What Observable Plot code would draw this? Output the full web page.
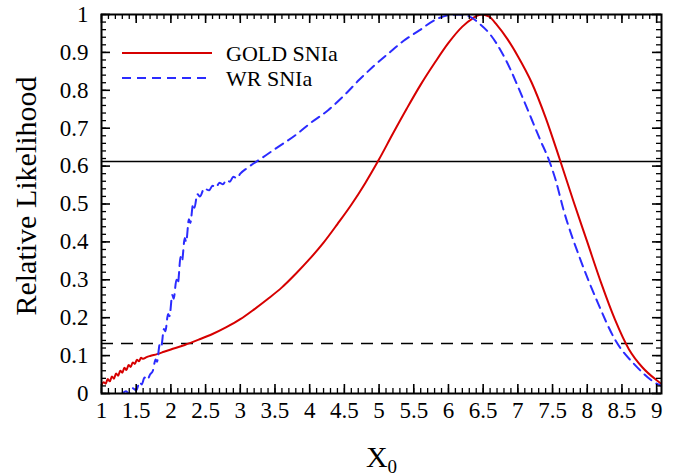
<!DOCTYPE html>
<html><head><meta charset="utf-8">
<script src="https://cdn.jsdelivr.net/npm/d3@7"></script>
<script src="https://cdn.jsdelivr.net/npm/@observablehq/plot@0.6"></script>
<style>
body{margin:0;background:#fff}
#wrap{position:relative;width:683px;height:475px;font-family:'Liberation Serif',serif}
#legend{position:absolute;left:0;top:0;pointer-events:none}
</style>
</head><body><div id="wrap"></div>
<script>
const goldX = [1.00,1.03,1.06,1.09,1.12,1.15,1.18,1.21,1.24,1.27,1.30,1.33,1.36,1.39,1.42,1.45,1.48,1.51,1.54,1.57,1.60,1.65,1.70,1.80,1.90,2.00,2.20,2.40,2.60,2.80,3.00,3.20,3.40,3.60,3.80,4.00,4.20,4.40,4.60,4.80,5.00,5.20,5.40,5.60,5.80,6.00,6.20,6.35,6.47,6.58,6.70,6.85,7.00,7.20,7.40,7.60,7.80,8.00,8.20,8.40,8.60,8.80,9.00,9.07];
const goldY = [0.022,0.030,0.026,0.038,0.032,0.045,0.039,0.053,0.047,0.060,0.055,0.068,0.062,0.075,0.070,0.082,0.078,0.089,0.085,0.094,0.092,0.096,0.099,0.104,0.110,0.116,0.128,0.142,0.157,0.175,0.196,0.222,0.250,0.280,0.316,0.355,0.398,0.447,0.498,0.555,0.618,0.686,0.752,0.815,0.872,0.925,0.968,0.990,1.000,0.995,0.972,0.935,0.890,0.820,0.728,0.620,0.508,0.400,0.292,0.195,0.117,0.068,0.035,0.025];
const wrX = [1.30,1.35,1.40,1.45,1.50,1.55,1.58,1.62,1.66,1.70,1.74,1.78,1.80,1.84,1.86,1.90,1.92,1.96,1.98,2.02,2.04,2.08,2.10,2.14,2.16,2.20,2.22,2.26,2.28,2.32,2.34,2.38,2.42,2.48,2.55,2.60,2.65,2.70,2.75,2.80,2.85,2.90,2.95,3.00,3.10,3.30,3.50,3.84,4.00,4.27,4.50,4.71,4.90,5.14,5.35,5.58,5.80,6.00,6.15,6.30,6.45,6.59,6.83,7.07,7.32,7.45,7.55,7.65,7.90,8.13,8.41,8.70,9.00,9.07];
const wrY = [0.000,0.006,0.000,0.014,0.008,0.030,0.024,0.042,0.036,0.050,0.060,0.090,0.084,0.130,0.124,0.170,0.164,0.210,0.204,0.260,0.250,0.300,0.290,0.360,0.350,0.410,0.400,0.460,0.450,0.500,0.490,0.526,0.520,0.541,0.536,0.548,0.544,0.556,0.552,0.563,0.559,0.572,0.568,0.580,0.595,0.620,0.645,0.688,0.712,0.748,0.787,0.827,0.860,0.898,0.930,0.958,0.985,0.998,1.000,0.995,0.975,0.950,0.879,0.780,0.670,0.615,0.560,0.490,0.354,0.249,0.139,0.073,0.026,0.020];
const levels = [0.612, 0.132];
const xTicks = [1,1.5,2,2.5,3,3.5,4,4.5,5,5.5,6,6.5,7,7.5,8,8.5,9];
const yTicks = [0,0.1,0.2,0.3,0.4,0.5,0.6,0.7,0.8,0.9,1];
const seriesNames = ["GOLD SNIa","WR SNIa"];
const xLabel = "X0";
const yLabel = "Relative Likelihood";

const FONT = "Liberation Serif, serif";
const W = 683, H = 475, ML = 101, MR = 22, MT = 14, MB = 82;
const FW = W - ML - MR, FH = H - MT - MB;
const gold = goldX.map((x,i)=>({x, y: goldY[i]}));
const wr = wrX.map((x,i)=>({x, y: wrY[i]}));
const xMinor = d3.range(10, 91).map(d=>d/10);
const yMinor = d3.range(0, 51).map(d=>d/50);
const RED = "#d60000", BLUE = "#2b2bff";
const maj = 9, mnr = 5;

const plot = Plot.plot({
  width: W, height: H, marginLeft: ML, marginRight: MR, marginTop: MT, marginBottom: MB,
  style: {fontFamily: FONT, background: "#fff", color: "#000"},
  x: {domain: [1, 9.07], axis: null},
  y: {domain: [0, 1], axis: null},
  marks: [
    Plot.ruleY([levels[0]], {stroke: "#000", strokeWidth: 1.6}),
    Plot.ruleY([levels[1]], {stroke: "#000", strokeWidth: 1.6, strokeDasharray: "12,8"}),
    Plot.line(gold, {x: "x", y: "y", stroke: RED, strokeWidth: 2, curve: "monotone-x", clip: true}),
    Plot.line(wr, {x: "x", y: "y", stroke: BLUE, strokeWidth: 2, strokeDasharray: "9,6", curve: "monotone-x", clip: true}),
    Plot.tickX(xTicks, {x: d=>d, insetTop: FH - maj, stroke: "#000", strokeWidth: 1.6}),
    Plot.tickX(xTicks, {x: d=>d, insetBottom: FH - maj, stroke: "#000", strokeWidth: 1.6}),
    Plot.tickX(xMinor, {x: d=>d, insetTop: FH - mnr, stroke: "#000", strokeWidth: 1.3}),
    Plot.tickX(xMinor, {x: d=>d, insetBottom: FH - mnr, stroke: "#000", strokeWidth: 1.3}),
    Plot.tickY(yTicks, {y: d=>d, insetRight: FW - maj, stroke: "#000", strokeWidth: 1.6}),
    Plot.tickY(yTicks, {y: d=>d, insetLeft: FW - maj, stroke: "#000", strokeWidth: 1.6}),
    Plot.tickY(yMinor, {y: d=>d, insetRight: FW - mnr, stroke: "#000", strokeWidth: 1.3}),
    Plot.tickY(yMinor, {y: d=>d, insetLeft: FW - mnr, stroke: "#000", strokeWidth: 1.3}),
    Plot.frame({stroke: "#000", strokeWidth: 2}),
    Plot.axisX(xTicks, {tickSize: 0, tickPadding: 8, fontSize: 23, fontFamily: FONT, label: null, tickFormat: d=>String(d)}),
    Plot.axisY(yTicks, {tickSize: 0, tickPadding: 13, fontSize: 23, fontFamily: FONT, label: null, tickFormat: d=>String(d)}),
    Plot.text([yLabel], {text: d=>d, frameAnchor: "left", textAnchor: "middle", rotate: -90, dx: -75, dy: -8, fontSize: 30, fontFamily: FONT, fill: "#000"}),
    Plot.text([xLabel], {text: d=>d, frameAnchor: "bottom", dy: 73, fontSize: 30, fontFamily: FONT, fill: "#000"})
  ]
});
document.getElementById("wrap").appendChild(plot);

d3.select(plot).selectAll("text").filter(function(){ return this.textContent === xLabel; })
  .each(function(){
    const t = d3.select(this);
    t.text(null);
    t.append("tspan").text(xLabel[0]);
    t.append("tspan").attr("font-size", 19).attr("dy", 6).text(xLabel.slice(1));
  });

const lg = document.createElementNS("http://www.w3.org/2000/svg","svg");
lg.setAttribute("id","legend"); lg.setAttribute("width", W); lg.setAttribute("height", 120);
const sel = d3.select(lg);
const entries = [{name: seriesNames[0], color: RED, dash: null, y: 53},{name: seriesNames[1], color: BLUE, dash: "9,6", y: 78}];
entries.forEach(e=>{
  sel.append("line").attr("x1",122).attr("x2",212).attr("y1",e.y).attr("y2",e.y)
    .attr("stroke",e.color).attr("stroke-width",2).attr("stroke-dasharray",e.dash);
  sel.append("text").attr("x",226).attr("y",e.y).attr("dy","0.35em")
    .attr("font-family",FONT).attr("font-size",22).attr("fill","#000").text(e.name);
});
document.getElementById("wrap").appendChild(lg);
</script>
</body></html>
